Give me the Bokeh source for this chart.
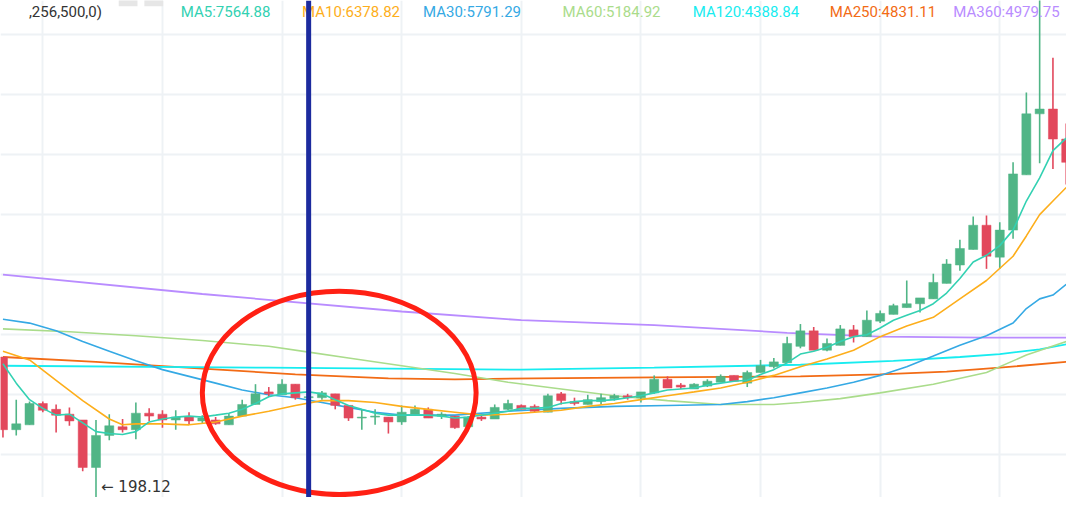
from bokeh.plotting import figure
from bokeh.models import Range1d, Span, Grid, FixedTicker, ColumnDataSource
from bokeh.core.properties import value
from bokeh.embed import file_html
from bokeh.resources import INLINE

# ---------------- data ----------------
opens = [5629, 4419, 4500, 4855, 4758, 4677, 4581, 3790, 4323, 4468,
         4419, 4694, 4677, 4581, 4629, 4565, 4581, 4500, 4645, 4839,
         5048, 5000, 5177, 4952, 4952, 5016, 4823, 4613, 4629, 4629,
         4548, 4677, 4758, 4645, 4645, 4468, 4629, 4597, 4758, 4823,
         4807, 4710, 5016, 4887, 4839, 4887, 4936, 4984, 4952, 5032,
         5258, 5161, 5097, 5145, 5210, 5323, 5194, 5371, 5468, 5532,
         5807, 6065, 5742, 5823, 6081, 5968, 6226, 6339, 6452, 6516,
         6597, 6855, 7161, 7420, 7823, 7291, 7742, 8662, 9678, 9758, 9258]
closes = [4419, 4516, 4855, 4742, 4661, 4565, 3790, 4323, 4484, 4419,
          4694, 4645, 4581, 4629, 4565, 4613, 4516, 4645, 4839, 5016,
          5016, 5177, 4952, 4968, 5032, 4823, 4613, 4629, 4645, 4548,
          4710, 4758, 4613, 4677, 4452, 4629, 4597, 4790, 4855, 4758,
          4726, 4984, 4903, 4855, 4919, 4952, 4984, 4952, 5048, 5258,
          5113, 5129, 5177, 5226, 5307, 5226, 5371, 5484, 5548, 5855,
          6065, 5742, 5855, 6097, 5968, 6242, 6355, 6484, 6516, 6613,
          6871, 7178, 7436, 7823, 7307, 7742, 8678, 9678, 9758, 9258, 8871]
highs = [5629, 4919, 4887, 4887, 4839, 4790, 4581, 4581, 4677, 4597,
         4871, 4774, 4742, 4742, 4710, 4661, 4629, 4694, 4919, 5177,
         5129, 5258, 5177, 5000, 5065, 5016, 4823, 4758, 4758, 4629,
         4823, 4823, 4790, 4710, 4645, 4645, 4677, 4839, 4919, 4839,
         4839, 5016, 5048, 4952, 5000, 5016, 5016, 5016, 5048, 5323,
         5307, 5194, 5194, 5258, 5339, 5323, 5403, 5581, 5613, 5968,
         6178, 6129, 5936, 6161, 6161, 6403, 6403, 6516, 6903, 6613,
         7016, 7258, 7581, 7968, 7984, 7871, 8871, 10033, 11646, 10613, 9516]
lows = [4290, 4323, 4500, 4710, 4371, 4484, 3726, 3198.12, 4242, 4371,
        4258, 4565, 4452, 4419, 4500, 4516, 4500, 4500, 4645, 4839,
        4968, 5000, 4919, 4936, 4919, 4758, 4565, 4419, 4500, 4355,
        4500, 4677, 4613, 4597, 4436, 4452, 4565, 4597, 4742, 4758,
        4710, 4710, 4839, 4823, 4839, 4839, 4903, 4919, 4871, 5016,
        5113, 5097, 5097, 5129, 5210, 5226, 5129, 5371, 5436, 5532,
        5774, 5742, 5726, 5823, 5871, 5968, 6194, 6339, 6452, 6371,
        6597, 6855, 7065, 7420, 7097, 7097, 7597, 8662, 8855, 8758, 8500]

ma5_x = list(range(81))
ma5_y = [5516, 5194, 4919, 4774, 4661, 4677, 4532, 4387, 4355, 4339,
         4387, 4548, 4597, 4629, 4645, 4629, 4661, 4694, 4758, 4855,
         4968, 5016, 5032, 5048, 5016, 4919, 4823, 4758, 4694, 4661,
         4661, 4661, 4661, 4645, 4613, 4629, 4661, 4694, 4726, 4774,
         4774, 4790, 4855, 4887, 4903, 4903, 4919, 4952, 4984, 5032,
         5081, 5097, 5113, 5161, 5194, 5226, 5242, 5339, 5419, 5532,
         5678, 5726, 5790, 5887, 5968, 6000, 6113, 6242, 6323, 6403,
         6516, 6694, 6936, 7210, 7323, 7484, 7742, 8226, 8613, 9065, 9274]
ma10_x = [0, 2, 4, 6, 8, 9, 10, 12, 14, 16, 18, 20, 22, 24, 26, 28, 30, 32, 34, 36,
          38, 40, 42, 44, 46, 48, 50, 52, 54, 56, 58, 60, 62, 64, 66, 68, 70, 72,
          74, 76, 77, 78, 79, 80]
ma10_y = [5726, 5581, 5242, 4903, 4597, 4500, 4516, 4516, 4500, 4548, 4645, 4726,
          4823, 4903, 4903, 4871, 4807, 4758, 4710, 4661, 4677, 4710, 4742, 4807,
          4855, 4919, 4984, 5048, 5113, 5210, 5323, 5468, 5597, 5742, 5968, 6145,
          6290, 6597, 6903, 7307, 7645, 8000, 8226, 8452]
ma30_x = [0, 2, 4, 6, 8, 10, 12, 14, 16, 18, 20, 22, 24, 26, 28, 30, 34, 38, 42, 46,
          50, 54, 56, 58, 60, 62, 64, 66, 68, 70, 72, 74, 76, 77, 78, 79, 80]
ma30_y = [6258, 6194, 6065, 5887, 5726, 5565, 5419, 5307, 5194, 5081, 5000, 4952,
          4871, 4790, 4710, 4661, 4661, 4726, 4774, 4807, 4823, 4839, 4887, 4952,
          5032, 5113, 5210, 5323, 5468, 5645, 5823, 5984, 6194, 6436, 6597, 6661, 6839]
ma60_x = [0, 5, 10, 15, 20, 23, 26, 30, 34, 38, 42, 46, 50, 54, 58, 60, 63, 66, 70, 74, 77, 80]
ma60_y = [6097, 6049, 5984, 5903, 5807, 5710, 5613, 5484, 5355, 5210, 5097, 4984,
          4903, 4839, 4839, 4871, 4936, 5032, 5177, 5371, 5661, 5887]
ma120_x = [0, 20, 39, 49, 60, 67, 72, 75, 78, 80]
ma120_y = [5484, 5452, 5419, 5452, 5500, 5565, 5629, 5678, 5758, 5839]
ma250_x = [0, 7, 15, 22, 29, 34, 40, 49, 60, 66, 71, 75, 80]
ma250_y = [5629, 5548, 5436, 5339, 5274, 5258, 5274, 5290, 5307, 5339, 5387, 5452, 5548]
ma360_x = [0, 15, 30, 39, 49, 59, 66, 74, 80]
ma360_y = [7000, 6678, 6387, 6242, 6161, 6032, 5968, 5952, 5952]

ma_names = ["MA5:7564.88", "MA10:6378.82", "MA30:5791.29", "MA60:5184.92",
            "MA120:4388.84", "MA250:4831.11", "MA360:4979.75"]
ma_colors = ["#33d1b2", "#fdae1b", "#35a9e4", "#aadc8b", "#18ecf0", "#f26b15", "#b98cff"]
ma_label_x = [13.38, 22.5, 31.6, 42.1, 51.9, 62.2, 71.5]
header_text = ",256,500,0)"
low_label = "← 198.12"

x_grid_ticks = [3, 12, 21, 30, 39, 48, 57, 66, 75]
y_grid_ticks = [4000, 5000, 6000, 7000, 8000, 9000, 10000, 11000]

marked_bar = 23
ellipse_center = (25.3, 5032)
ellipse_size = (20.6, 3387)
header_baseline = 11370

GREEN = "#50b586"
RED = "#e2485c"

# ---------------- figure ----------------
p = figure(width=1066, height=497, output_backend="svg", toolbar_location=None,
           x_axis_location=None, y_axis_location=None, min_border=0,
           x_range=Range1d(-0.185, 80.02), y_range=Range1d(3290, 11565))
p.outline_line_color = None
p.background_fill_color = "white"
p.border_fill_color = "white"
p.xgrid.visible = False
p.ygrid.visible = False
p.add_layout(Grid(dimension=0, ticker=FixedTicker(ticks=x_grid_ticks),
                  grid_line_color="#eef2f5", grid_line_width=2))
p.add_layout(Grid(dimension=1, ticker=FixedTicker(ticks=y_grid_ticks),
                  grid_line_color="#eef2f5", grid_line_width=2))

idx = list(range(len(opens)))
cols = [GREEN if c >= o else RED for o, c in zip(opens, closes)]
src = ColumnDataSource(dict(x=idx, o=opens, c=closes, h=highs, l=lows,
                            top=[max(o, c) for o, c in zip(opens, closes)],
                            bot=[min(o, c) for o, c in zip(opens, closes)],
                            color=cols))

# moving averages (long ones under candles)
ma_data = [(ma5_x, ma5_y, 1.6), (ma10_x, ma10_y, 1.6), (ma30_x, ma30_y, 1.6),
           (ma60_x, ma60_y, 1.6), (ma120_x, ma120_y, 1.8), (ma250_x, ma250_y, 1.8),
           (ma360_x, ma360_y, 1.8)]
for k in [6, 5, 4, 3, 2]:
    xs, ys, w = ma_data[k]
    p.line(xs, ys, line_color=ma_colors[k], line_width=w)

p.segment(x0="x", y0="h", x1="x", y1="l", color="color", line_width=1.6, source=src)
p.vbar(x="x", top="top", bottom="bot", width=0.68, fill_color="color",
       line_color="color", line_width=0.5, source=src)

for k in [1, 0]:
    xs, ys, w = ma_data[k]
    p.line(xs, ys, line_color=ma_colors[k], line_width=w)

# annotations
p.add_layout(Span(location=marked_bar, dimension="height", line_color="#1c2b9e", line_width=5))
p.ellipse(x=[ellipse_center[0]], y=[ellipse_center[1]], width=[ellipse_size[0]],
          height=[ellipse_size[1]], fill_alpha=0, line_color="#ff2014", line_width=5)

# lowest point label
p.text(x=[7], y=[lows[7]], text=[low_label], x_offset=5, y_offset=-16,
       text_font=value("DejaVu Sans"), text_font_size="15px", text_color="#333333",
       text_baseline="middle", text_align="left")

# header strip
p.text(x=[7.45], y=[header_baseline], text=[header_text], text_font=value("Roboto"),
       text_font_size="15px", text_color="#333333", text_align="right",
       text_baseline="alphabetic")
p.quad(left=[8.71, 10.64], right=[10.12, 12.05], bottom=[11468, 11468],
       top=[11700, 11700], fill_color="#e6e6e6", line_color=None)
p.text(x=ma_label_x, y=[header_baseline] * 7, text=ma_names, text_color=ma_colors,
       text_font=value("Roboto"), text_font_size="15px", text_align="left",
       text_baseline="alphabetic")

open("out.html", "w").write(file_html(p, INLINE))
